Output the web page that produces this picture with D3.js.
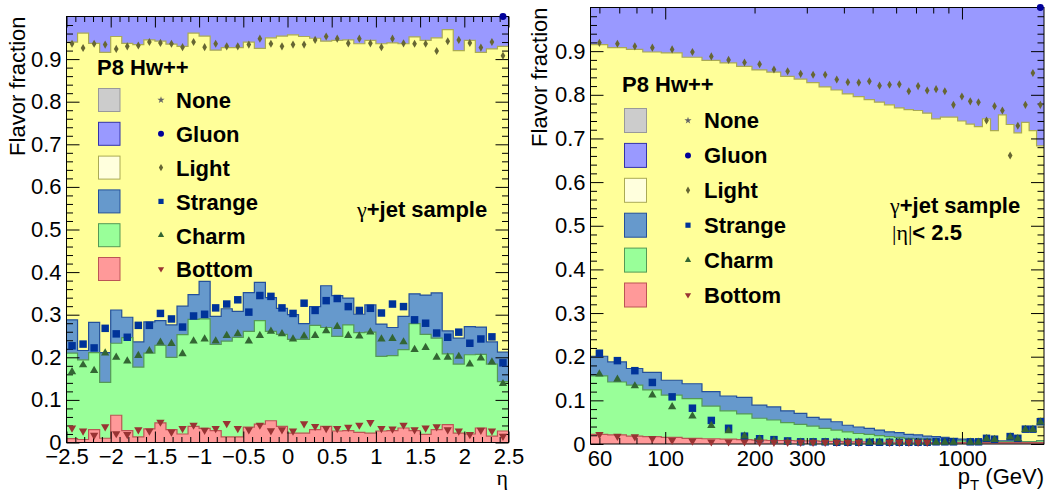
<!DOCTYPE html>
<html><head><meta charset="utf-8">
<script src="https://cdn.jsdelivr.net/npm/d3@7"></script>
<style>
body{margin:0;background:#fff}
svg{display:block;font-family:"Liberation Sans",Arial,Helvetica,sans-serif}
</style>
</head><body>
<svg id="c" width="1047" height="498"></svg>
<script>
// ---------------- DATA ----------------
// Legend / flavour categories
const flavors = ["None", "Gluon", "Light", "Strange", "Charm", "Bottom"];
const legendHeader = "P8 Hw++";

// Tick labels
const yTickValues = [0, 0.1, 0.2, 0.3, 0.4, 0.5, 0.6, 0.7, 0.8, 0.9];
const etaTickValues = [-2.5, -2, -1.5, -1, -0.5, 0, 0.5, 1, 1.5, 2, 2.5];
const ptMajorTicks = [100, 1000];
const ptTickLabels = [60, 100, 200, 300, 1000];

// ---- eta panel: 40 bins of 0.125 from -2.5 to 2.5 ----
const etaEdges = d3.range(41).map(i => -2.5 + 0.125 * i);
// P8 stacked histogram (cumulative stack tops)
const etaP8LightTop = [0.940, 0.961, 0.937, 0.916, 0.953, 0.937, 0.934, 0.945, 0.942, 0.935,
                       0.930, 0.961, 0.954, 0.921, 0.927, 0.927, 0.940, 0.925, 0.950, 0.954,
                       0.957, 0.953, 0.949, 0.942, 0.944, 0.945, 0.936, 0.944, 0.936, 0.938,
                       0.936, 0.952, 0.944, 0.950, 0.969, 0.920, 0.944, 0.916, 0.924, 0.930];
const etaP8StrangeTop = [0.288, 0.216, 0.282, 0.211, 0.311, 0.294, 0.236, 0.283, 0.286, 0.276,
                         0.320, 0.347, 0.378, 0.296, 0.314, 0.308, 0.352, 0.376, 0.340, 0.315,
                         0.300, 0.279, 0.319, 0.368, 0.345, 0.339, 0.301, 0.323, 0.278, 0.270,
                         0.296, 0.349, 0.346, 0.351, 0.262, 0.245, 0.272, 0.271, 0.236, 0.212];
const etaP8CharmTop = [0.210, 0.194, 0.211, 0.141, 0.233, 0.246, 0.177, 0.210, 0.228, 0.200,
                       0.253, 0.289, 0.290, 0.230, 0.238, 0.247, 0.261, 0.286, 0.261, 0.254,
                       0.242, 0.242, 0.275, 0.270, 0.249, 0.276, 0.258, 0.259, 0.202, 0.204,
                       0.218, 0.279, 0.254, 0.245, 0.208, 0.184, 0.206, 0.207, 0.184, 0.143];
const etaP8BottomTop = [0.009, 0.007, 0.030, 0.010, 0.064, 0.028, 0.013, 0.032, 0.046, 0.030,
                        0.020, 0.038, 0.033, 0.028, 0.013, 0.013, 0.036, 0.043, 0.051, 0.038,
                        0.022, 0.022, 0.030, 0.038, 0.027, 0.028, 0.024, 0.022, 0.027, 0.028,
                        0.034, 0.028, 0.019, 0.030, 0.042, 0.022, 0.020, 0.034, 0.015, 0.027];
const etaP8GluonTop = etaP8LightTop.map(() => 1.0); // fractions sum to one
// Hw++ markers (cumulative)
const etaHwLight = [0.936, 0.926, 0.936, 0.934, 0.924, 0.930, 0.932, 0.940, 0.938, 0.936,
                    0.928, 0.940, 0.928, 0.936, 0.930, 0.930, 0.934, 0.948, 0.936, 0.930,
                    0.934, 0.934, 0.945, 0.953, 0.948, 0.937, 0.948, 0.937, 0.928, 0.948,
                    0.937, 0.936, 0.936, 0.919, 0.942, 0.945, 0.938, 0.927, 0.940, 0.908];
const etaHwStrange = [0.227, 0.231, 0.222, 0.268, 0.255, 0.247, 0.275, 0.275, 0.303, 0.290,
                      0.271, 0.297, 0.301, 0.316, 0.325, 0.335, 0.306, 0.345, 0.343, 0.316,
                      0.303, 0.327, 0.310, 0.333, 0.338, 0.319, 0.310, 0.315, 0.304, 0.325,
                      0.319, 0.288, 0.280, 0.257, 0.247, 0.259, 0.233, 0.243, 0.248, 0.187];
const etaHwCharm = [0.166, 0.182, 0.169, 0.210, 0.200, 0.191, 0.204, 0.215, 0.235, 0.232,
                    0.208, 0.238, 0.243, 0.238, 0.251, 0.255, 0.238, 0.251, 0.261, 0.255,
                    0.243, 0.250, 0.251, 0.262, 0.272, 0.251, 0.250, 0.259, 0.243, 0.244,
                    0.236, 0.218, 0.223, 0.200, 0.200, 0.202, 0.184, 0.198, 0.189, 0.138];
const etaHwBottom = [0.034, 0.027, 0.017, 0.037, 0.021, 0.019, 0.030, 0.027, 0.048, 0.025,
                     0.033, 0.041, 0.029, 0.033, 0.045, 0.033, 0.030, 0.041, 0.028, 0.030,
                     0.027, 0.044, 0.038, 0.033, 0.033, 0.036, 0.041, 0.047, 0.033, 0.032,
                     0.041, 0.030, 0.034, 0.037, 0.030, 0.027, 0.019, 0.029, 0.027, 0.015];
const etaHwGluon = [null, null, null, null, null, null, null, null, null, null,
                    null, null, null, null, null, null, null, null, null, null,
                    null, null, null, null, null, null, null, null, null, null,
                    null, null, null, null, null, null, null, null, null, 1.0];

// ---- pT panel: standard jet pT binning ----
const ptEdges = [56, 64, 74, 84, 97, 114, 133, 153, 174, 196, 220, 245, 272, 300, 330, 362, 395, 430,
                 468, 507, 548, 592, 638, 686, 737, 790, 846, 905, 967, 1032, 1101, 1172, 1248, 1327,
                 1410, 1497, 1588, 1684, 1784, 1890];
const ptP8LightTop = [0.915, 0.908, 0.904, 0.898, 0.896, 0.886, 0.879, 0.873, 0.865, 0.857,
                      0.852, 0.842, 0.836, 0.828, 0.818, 0.811, 0.802, 0.796, 0.789, 0.783,
                      0.777, 0.770, 0.766, 0.764, 0.758, 0.745, 0.749, 0.749, 0.740, 0.733,
                      0.727, 0.745, 0.718, 0.754, 0.732, 0.713, 0.737, 0.718, 0.683];
const ptP8StrangeTop = [0.201, 0.188, 0.173, 0.164, 0.146, 0.138, 0.120, 0.110, 0.107, 0.089,
                        0.085, 0.076, 0.070, 0.061, 0.057, 0.051, 0.043, 0.039, 0.036, 0.032,
                        0.028, 0.026, 0.022, 0.021, 0.018, 0.017, 0.015, 0.013, 0.011, 0.009,
                        0.009, 0.009, 0.008, 0.007, 0.007, 0.007, 0.005, 0.005, 0.007];
const ptP8CharmTop = [0.156, 0.142, 0.135, 0.124, 0.112, 0.104, 0.087, 0.076, 0.069, 0.059,
                      0.055, 0.049, 0.045, 0.041, 0.036, 0.032, 0.028, 0.024, 0.022, 0.019,
                      0.017, 0.015, 0.013, 0.012, 0.011, 0.009, 0.009, 0.008, 0.007, 0.006,
                      0.006, 0.005, 0.005, 0.005, 0.005, 0.005, 0.005, 0.005, 0.007];
const ptP8BottomTop = [0.022, 0.021, 0.018, 0.017, 0.015, 0.013, 0.012, 0.011, 0.010, 0.009,
                       0.008, 0.008, 0.007, 0.007, 0.006, 0.006, 0.005, 0.005, 0.005, 0.004,
                       0.004, 0.004, 0.004, 0.004, 0.003, 0.003, 0.003, 0.003, 0.003, 0.003,
                       0.003, 0.003, 0.003, 0.003, 0.003, 0.003, 0.003, 0.003, 0.003];
const ptP8GluonTop = ptP8LightTop.map(() => 1.0);
const ptHwLight = [0.919, 0.917, 0.911, 0.908, 0.904, 0.898, 0.888, 0.880, 0.874, 0.870,
                   0.858, 0.854, 0.848, 0.846, 0.846, 0.835, 0.829, 0.828, 0.831, 0.821,
                   0.823, 0.824, 0.808, 0.820, 0.810, 0.813, 0.808, 0.777, 0.796, 0.785,
                   0.783, 0.741, 0.774, 0.764, 0.661, 0.729, 0.777, 0.850, 0.777];
const ptHwStrange = [0.208, 0.191, 0.168, 0.141, 0.108, 0.082, 0.054, 0.036, 0.018, 0.012,
                     0.010, 0.007, 0.005, 0.005, 0.005, 0.004, 0.004, 0.004, 0.004, 0.004,
                     0.004, 0.004, 0.004, 0.004, 0.004, 0.005, 0.005, 0.005, null, 0.005,
                     0.005, 0.013, 0.011, null, 0.017, 0.013, 0.034, 0.034, 0.051];
const ptHwCharm = [0.160, 0.148, 0.133, 0.112, 0.085, 0.064, 0.042, 0.030, 0.018, 0.011,
                   0.008, 0.005, 0.004, 0.004, 0.004, 0.004, 0.004, 0.004, 0.004, 0.004,
                   0.004, 0.004, 0.004, 0.004, 0.004, 0.004, 0.004, 0.004, null, 0.004,
                   0.004, 0.012, 0.010, null, 0.016, 0.012, 0.033, 0.033, 0.050];
const ptHwBottom = [0.022, 0.018, 0.017, 0.013, 0.009, 0.007, 0.005, 0.005, 0.005, 0.004,
                    0.004, 0.004, 0.004, 0.004, 0.004, 0.004, 0.004, 0.004, null, null,
                    0.004, 0.004, 0.004, 0.004, 0.004, null, null, null, null, null,
                    null, null, null, null, null, null, null, null, null];
const ptHwGluon = [null, null, null, null, null, null, null, null, null, null,
                   null, null, null, null, null, null, null, null, null, null,
                   null, null, null, null, null, null, null, null, null, null,
                   null, null, null, null, null, null, null, null, 1.0];

// ---------------- STYLE ----------------
const fillCol = {None:"#cccccc", Gluon:"#9999ff", Light:"#ffff99", Strange:"#6699cc", Charm:"#99ff99", Bottom:"#ff9999"};
const lineCol = {None:"#999999", Gluon:"#3333aa", Light:"#aaaa55", Strange:"#24509a", Charm:"#559955", Bottom:"#bb5555"};
const boxFill = {None:"#cccccc", Gluon:"#9999ff", Light:"#ffffdd", Strange:"#6699cc", Charm:"#99ff99", Bottom:"#ff9999"};
const markCol = {None:"#666666", Gluon:"#000099", Light:"#666633", Strange:"#003399", Charm:"#336633", Bottom:"#993333"};
const symType = {None:d3.symbolStar, Gluon:d3.symbolCircle, Light:d3.symbolDiamond, Strange:d3.symbolSquare, Charm:d3.symbolTriangle, Bottom:d3.symbolTriangle};
const symSizeData = {None:20, Gluon:38, Light:19, Strange:56, Charm:30, Bottom:30};
const symSizeLeg  = {None:16, Gluon:28, Light:16, Strange:27, Charm:17, Bottom:17};

const svg = d3.select("#c");
const FS = 22;

function drawPanel(cfg) {
  const {id, x, y, edges, tops, marks, xTicks, legend, ytitleX} = cfg;
  const [x0, x1] = x.range();
  const [yb, yt] = y.range();
  const g = svg.append("g");

  svg.append("clipPath").attr("id", id + "clip").append("rect")
    .attr("x", x0).attr("y", yt).attr("width", x1 - x0).attr("height", yb - yt);
  const plot = g.append("g").attr("clip-path", `url(#${id}clip)`);

  // stacked histograms, drawn from the largest cumulative down
  ["Gluon", "Light", "Strange", "Charm", "Bottom"].forEach(f => {
    const vals = tops[f];
    const pts = vals.map((v, i) => [edges[i], v]);
    pts.push([edges[edges.length - 1], vals[vals.length - 1]]);
    plot.append("path")
      .attr("d", d3.area().x(d => x(d[0])).y0(y(0)).y1(d => y(d[1])).curve(d3.curveStepAfter)(pts))
      .attr("fill", fillCol[f]);
    plot.append("path")
      .attr("d", d3.line().x(d => x(d[0])).y(d => y(d[1])).curve(d3.curveStepAfter)(pts))
      .attr("fill", "none").attr("stroke", lineCol[f]).attr("stroke-width", 1.2);
  });

  // axes (ROOT style: ticks inside on all four sides)
  const yMinor = d3.range(0.02, 1.0, 0.02).filter(v => Math.abs(v * 10 - Math.round(v * 10)) > 1e-6);
  const axG = g.append("g").attr("color", "#000");
  const style = sel => { sel.select(".domain").remove(); sel.attr("font-family", null).attr("font-size", null); };

  axG.append("g").attr("transform", `translate(${x0},0)`)
    .call(d3.axisLeft(y).tickValues(yTickValues).tickSize(-13).tickPadding(5)
      .tickFormat(d => d === 0 ? "0" : d3.format(".1f")(d))).call(style);
  axG.append("g").attr("transform", `translate(${x0},0)`)
    .call(d3.axisLeft(y).tickValues(yMinor).tickSize(-6.5).tickFormat("")).call(style);
  axG.append("g").attr("transform", `translate(${x1},0)`)
    .call(d3.axisRight(y).tickValues(yTickValues).tickSize(-13).tickFormat("")).call(style);
  axG.append("g").attr("transform", `translate(${x1},0)`)
    .call(d3.axisRight(y).tickValues(yMinor).tickSize(-6.5).tickFormat("")).call(style);

  xTicks(axG, style, yb, yt);

  axG.selectAll("text").attr("font-size", FS).attr("fill", "#000");

  // frame
  g.append("rect").attr("x", x0).attr("y", yt).attr("width", x1 - x0).attr("height", yb - yt)
    .attr("fill", "none").attr("stroke", "#000").attr("stroke-width", 1);

  // markers
  const centers = edges.slice(0, -1).map((e, i) => (e + edges[i + 1]) / 2);
  flavors.forEach(f => {
    const vals = marks[f];
    if (!vals) return;
    g.append("g").selectAll("path")
      .data(vals.map((v, i) => ({v, c: centers[i]})).filter(d => d.v != null))
      .join("path")
      .attr("transform", d => `translate(${x(d.c)},${y(d.v)})` + (f === "Bottom" ? " rotate(180)" : ""))
      .attr("d", d3.symbol(symType[f], symSizeData[f])())
      .attr("fill", markCol[f]);
  });

  // y title
  g.append("text").attr("transform", `translate(${ytitleX},${yt}) rotate(-90)`)
    .attr("text-anchor", "end").attr("font-size", FS).text("Flavor fraction");

  // legend
  const L = legend;
  g.append("text").attr("x", L.hx).attr("y", L.hy).attr("font-size", FS).attr("font-weight", "bold").text(legendHeader);
  flavors.forEach((f, i) => {
    const by = L.y0 + L.dy * i;
    const cy = by - L.off;
    g.append("rect").attr("x", L.bx).attr("y", cy - L.bh / 2).attr("width", L.bw).attr("height", L.bh)
      .attr("fill", boxFill[f]).attr("stroke", lineCol[f]).attr("stroke-width", 1);
    g.append("path").attr("transform", `translate(${L.mx},${cy})` + (f === "Bottom" ? " rotate(180)" : ""))
      .attr("d", d3.symbol(symType[f], symSizeLeg[f])()).attr("fill", markCol[f]);
    g.append("text").attr("x", L.tx).attr("y", by).attr("font-size", FS).attr("font-weight", "bold").text(f);
  });
  return g;
}

// ---------------- LEFT PANEL (eta) ----------------
const xEta = d3.scaleLinear().domain([-2.5, 2.5]).range([66.5, 508.5]);
const yEta = d3.scaleLinear().domain([0, 1]).range([442.5, 16.5]);
const gL = drawPanel({
  id: "eta", x: xEta, y: yEta, edges: etaEdges, ytitleX: 25,
  tops: {Gluon: etaP8GluonTop, Light: etaP8LightTop, Strange: etaP8StrangeTop, Charm: etaP8CharmTop, Bottom: etaP8BottomTop},
  marks: {Gluon: etaHwGluon, Light: etaHwLight, Strange: etaHwStrange, Charm: etaHwCharm, Bottom: etaHwBottom},
  legend: {hx: 97, hy: 74.5, y0: 108.3, dy: 33.8, off: 8.3, bx: 98.5, bw: 21.5, bh: 23, mx: 161, tx: 176},
  xTicks: (axG, style, yb, yt) => {
    const minor = d3.range(-2.4, 2.45, 0.1).filter(v => Math.abs(v * 2 - Math.round(v * 2)) > 1e-6);
    const fmt = d => d === 0 ? "0" : (d < 0 ? "\u2212" : "") + Math.abs(d);
    axG.append("g").attr("transform", `translate(0,${yb})`)
      .call(d3.axisBottom(xEta).tickValues(etaTickValues).tickSize(-11).tickPadding(6).tickFormat(fmt)).call(style);
    axG.append("g").attr("transform", `translate(0,${yb})`)
      .call(d3.axisBottom(xEta).tickValues(minor).tickSize(-5.5).tickFormat("")).call(style);
    axG.append("g").attr("transform", `translate(0,${yt})`)
      .call(d3.axisTop(xEta).tickValues(etaTickValues).tickSize(-11).tickFormat("")).call(style);
    axG.append("g").attr("transform", `translate(0,${yt})`)
      .call(d3.axisTop(xEta).tickValues(minor).tickSize(-5.5).tickFormat("")).call(style);
  }
});
gL.append("text").attr("x", 508).attr("y", 485).attr("text-anchor", "end")
  .attr("font-size", FS).attr("font-family", "Liberation Serif, serif").text("\u03b7");
const tL = gL.append("text").attr("x", 357).attr("y", 217).attr("font-size", FS);
tL.append("tspan").attr("font-family", "Liberation Serif, serif").text("\u03b3");
tL.append("tspan").attr("font-weight", "bold").text("+jet sample");

// ---------------- RIGHT PANEL (pT) ----------------
const xPt = d3.scaleLog().domain([56, 1890]).range([590.5, 1044]);
const yPt = d3.scaleLinear().domain([0, 1]).range([444, 7.5]);
const gR = drawPanel({
  id: "pt", x: xPt, y: yPt, edges: ptEdges, ytitleX: 547,
  tops: {Gluon: ptP8GluonTop, Light: ptP8LightTop, Strange: ptP8StrangeTop, Charm: ptP8CharmTop, Bottom: ptP8BottomTop},
  marks: {Gluon: ptHwGluon, Light: ptHwLight, Strange: ptHwStrange, Charm: ptHwCharm, Bottom: ptHwBottom},
  legend: {hx: 622, hy: 92, y0: 128, dy: 34.9, off: 7.5, bx: 624.5, bw: 22, bh: 24, mx: 688, tx: 704},
  xTicks: (axG, style, yb, yt) => {
    const minor = [60, 70, 80, 90, 200, 300, 400, 500, 600, 700, 800, 900];
    axG.append("g").attr("transform", `translate(0,${yb})`)
      .call(d3.axisBottom(xPt).tickValues(ptMajorTicks).tickSize(-12).tickFormat("")).call(style);
    axG.append("g").attr("transform", `translate(0,${yb})`)
      .call(d3.axisBottom(xPt).tickValues(minor).tickSize(-6).tickFormat("")).call(style);
    axG.append("g").attr("transform", `translate(0,${yt})`)
      .call(d3.axisTop(xPt).tickValues(ptMajorTicks).tickSize(-12).tickFormat("")).call(style);
    axG.append("g").attr("transform", `translate(0,${yt})`)
      .call(d3.axisTop(xPt).tickValues(minor).tickSize(-6).tickFormat("")).call(style);
    const lab = axG.append("g").attr("transform", `translate(0,${yb})`)
      .call(d3.axisBottom(xPt).tickValues(ptTickLabels).tickSize(0).tickPadding(6).tickFormat(d3.format("d"))).call(style);
    lab.selectAll("line").remove();
  }
});
const xt = gR.append("text").attr("x", 1044).attr("y", 484).attr("text-anchor", "end").attr("font-size", FS);
xt.append("tspan").text("p");
xt.append("tspan").attr("font-size", 15).attr("dy", 6).text("T");
xt.append("tspan").attr("dy", -6).text(" (GeV)");
const tR = gR.append("text").attr("x", 890).attr("y", 213).attr("font-size", FS);
tR.append("tspan").attr("font-family", "Liberation Serif, serif").text("\u03b3");
tR.append("tspan").attr("font-weight", "bold").text("+jet sample");
const tR2 = gR.append("text").attr("x", 892).attr("y", 240).attr("font-size", FS);
tR2.append("tspan").attr("font-family", "Liberation Serif, serif").text("|\u03b7|");
tR2.append("tspan").attr("font-weight", "bold").text("< 2.5");
</script>
</body></html>
